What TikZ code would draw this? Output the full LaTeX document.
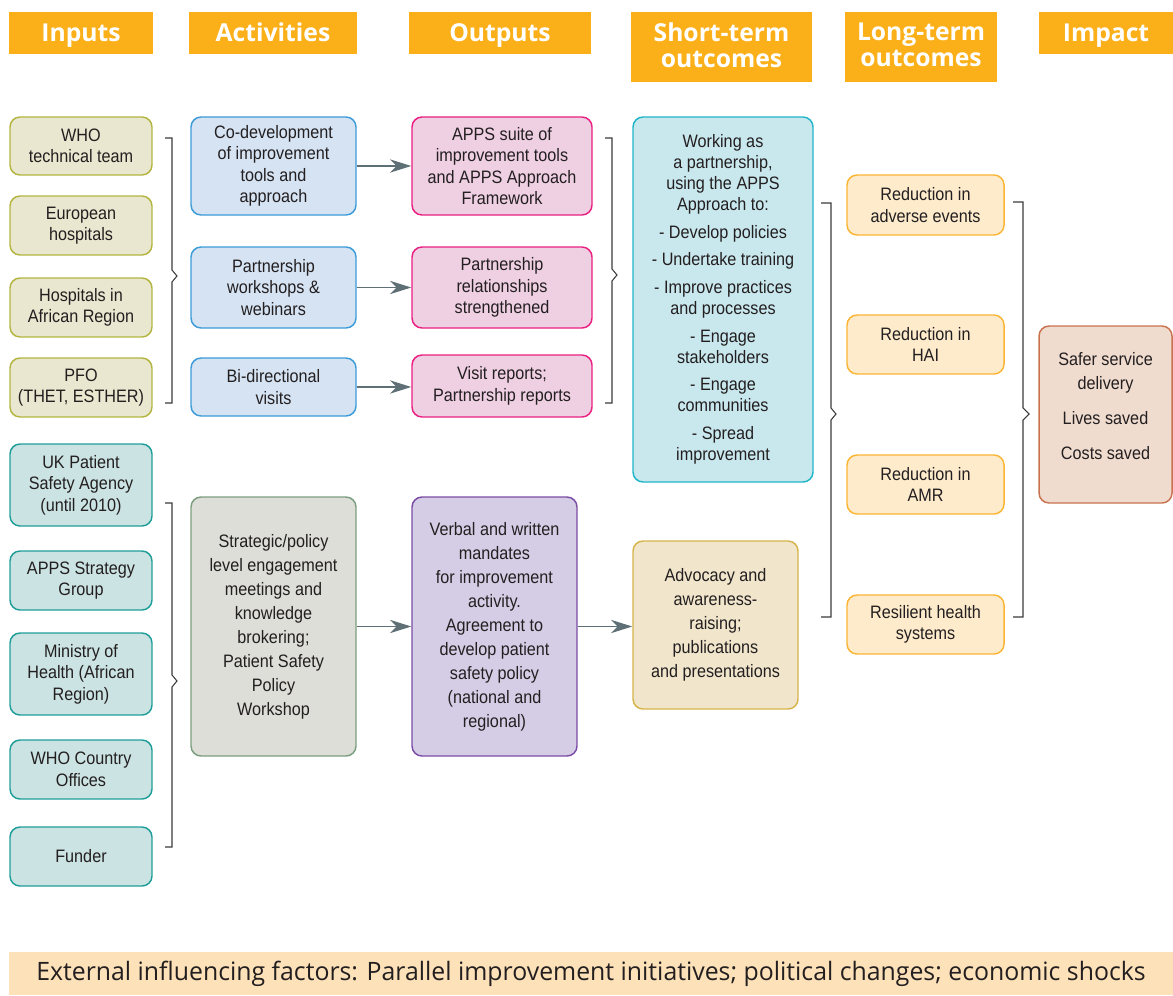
\documentclass[tikz,border=0pt]{standalone}
\usepackage{fontspec}
\setmainfont{Liberation Sans}[FakeStretch=0.9]
\newfontfamily\headfont{Open Sans}
\newfontfamily\barfont{Open Sans}[FakeStretch=0.98]
\usetikzlibrary{arrows.meta}
\definecolor{hdor}{HTML}{FBB01A}
\definecolor{barF}{HTML}{FDE1B8}
\definecolor{txt}{HTML}{231F20}
\definecolor{olvF}{HTML}{E9E7CF}
\definecolor{olvD}{HTML}{B3B540}
\definecolor{tlF}{HTML}{CBE3E2}
\definecolor{tlD}{HTML}{1F9E99}
\definecolor{bluF}{HTML}{D5E3F3}
\definecolor{bluD}{HTML}{3C9BD8}
\definecolor{gryF}{HTML}{DCDED7}
\definecolor{gryD}{HTML}{7C9E80}
\definecolor{pnkF}{HTML}{EFD0E3}
\definecolor{pnkD}{HTML}{EA1F82}
\definecolor{purF}{HTML}{D5CDE5}
\definecolor{purD}{HTML}{7B4DA6}
\definecolor{cyF}{HTML}{C9E8EE}
\definecolor{cyD}{HTML}{21B5C9}
\definecolor{advF}{HTML}{F1E6CC}
\definecolor{advD}{HTML}{D6B44C}
\definecolor{ltF}{HTML}{FDEBCC}
\definecolor{ltD}{HTML}{FBB535}
\definecolor{imF}{HTML}{F0DCCF}
\definecolor{imD}{HTML}{C9724F}
\definecolor{arrc}{HTML}{5E6F76}
\definecolor{brkc}{HTML}{3A3A3A}
\tikzset{
  bx/.style={draw, line width=1.1pt, rounded corners=7.5pt, inner sep=0pt, align=center,
    text=txt, font=\fontsize{13.5}{16.1}\selectfont},
  bxl/.style={bx, font=\fontsize{13.5}{18}\selectfont},
  hd/.style={fill=hdor, inner sep=0pt, align=center, text=white,
    font=\headfont\bfseries\fontsize{18.5}{19.5}\selectfont},
  hdone/.style={hd, text height=13.2pt, text depth=0pt},
  olv/.style={bx, fill=olvF, draw=olvD},
  tl/.style={bx, fill=tlF, draw=tlD},
  blu/.style={bx, fill=bluF, draw=bluD},
  gry/.style={bxl, fill=gryF, draw=gryD},
  pnk/.style={bx, fill=pnkF, draw=pnkD},
  pur/.style={bxl, fill=purF, draw=purD},
  cy/.style={bx, fill=cyF, draw=cyD, font=\fontsize{13.5}{15.75}\selectfont},
  adv/.style={bxl, fill=advF, draw=advD},
  lt/.style={bx, fill=ltF, draw=ltD},
  im/.style={bxl, fill=imF, draw=imD},
  barst/.style={fill=barF, inner sep=0pt, text=txt, font=\barfont\fontsize{19}{21}\selectfont},
  arr/.style={draw=arrc, line width=1.1pt, -{Stealth[length=16pt,width=10pt,inset=5pt]}},
  brk/.style={draw=brkc, line width=0.8pt}
}
\newcommand\mybox[7]{%
  \pgfmathsetmacro\bxcx{(#3+#5)/2}%
  \pgfmathsetmacro\bxcy{(#4+#6)/2}%
  \pgfmathsetmacro\bxw{(#5-#3)*0.75}%
  \pgfmathsetmacro\bxh{(#6-#4)*0.75}%
  \node[#1, minimum width=\bxw pt, minimum height=\bxh pt, anchor=center] (#2) at (\bxcx,\bxcy) {#7};}
\begin{document}
\begin{tikzpicture}[x=0.75pt,y=-0.75pt]
\useasboundingbox (0,0) rectangle (1173,995);
% headers
\mybox{hdone}{h1}{9}{12}{153}{54}{Inputs}
\mybox{hdone}{h2}{189}{12}{357}{54}{Activities}
\mybox{hdone}{h3}{409}{12}{591}{54}{Outputs}
\mybox{hd}{h4}{631}{12}{812}{82}{Short-term\\outcomes\\[-16pt]\mbox{}}
\mybox{hd}{h5}{845}{12}{997}{82}{Long-term\\outcomes\\[-16pt]\mbox{}}
\mybox{hdone}{h6}{1039}{12}{1173}{54}{Impact}
% inputs
\mybox{olv}{in1}{10}{117}{152}{175}{WHO\\technical team}
\mybox{olv}{in2}{10}{196}{152}{255}{European\\hospitals}
\mybox{olv}{in3}{10}{278}{152}{337}{Hospitals in\\African Region}
\mybox{olv}{in4}{10}{358}{152}{417}{PFO\\(THET, ESTHER)}
\mybox{tl}{in5}{10}{444}{152}{526}{UK Patient\\Safety Agency\\(until 2010)}
\mybox{tl}{in6}{10}{551}{152}{610}{APPS Strategy\\Group}
\mybox{tl}{in7}{10}{633}{152}{715}{Ministry of\\Health (African\\Region)}
\mybox{tl}{in8}{10}{740}{152}{799}{WHO Country\\Offices}
\mybox{tl}{in9}{10}{827}{152}{886}{Funder}
% activities
\mybox{blu}{ac1}{191}{117}{356}{215}{Co-development\\of improvement\\tools and\\approach}
\mybox{blu}{ac2}{191}{247}{356}{328}{Partnership\\workshops \&\\webinars}
\mybox{blu}{ac3}{191}{358}{356}{416}{Bi-directional\\visits}
\mybox{gry}{ac4}{191}{497}{356}{756}{Strategic/policy\\level engagement\\meetings and\\knowledge\\brokering;\\Patient Safety\\Policy\\Workshop}
% outputs
\mybox{pnk}{ou1}{412}{117}{592}{215}{APPS suite of\\improvement tools\\and APPS Approach\\Framework}
\mybox{pnk}{ou2}{412}{247}{592}{328}{Partnership\\relationships\\strengthened}
\mybox{pnk}{ou3}{412}{355}{592}{417}{Visit reports;\\Partnership reports}
\mybox{pur}{ou4}{412}{497}{577}{756}{Verbal and written\\mandates\\for improvement\\activity.\\Agreement to\\develop patient\\safety policy\\(national and\\regional)}
% short-term
\mybox{cy}{st1}{633}{117}{813}{482}{Working as\\a partnership,\\using the APPS\\Approach to:\\[5pt]- Develop policies\\[5pt]- Undertake training\\[5pt]- Improve practices\\and processes\\[5pt]- Engage\\stakeholders\\[5pt]- Engage\\communities\\[5pt]- Spread\\improvement}
\mybox{adv}{st2}{633}{541}{798}{709}{Advocacy and\\awareness-\\raising;\\publications\\and presentations}
% long-term
\mybox{lt}{lt1}{847}{175}{1004}{235}{Reduction in\\adverse events}
\mybox{lt}{lt2}{847}{315}{1004}{374}{Reduction in\\HAI}
\mybox{lt}{lt3}{847}{455}{1004}{514}{Reduction in\\AMR}
\mybox{lt}{lt4}{847}{595}{1004}{654}{Resilient health\\systems}
% impact
\mybox{im}{imp}{1039}{326}{1172}{503}{Safer service\\delivery\\[8pt]Lives saved\\[8pt]Costs saved\\[-5pt]\phantom{x}}
% bottom bar
\mybox{barst}{bar}{9}{952}{1173}{995}{External influencing factors: Parallel improvement initiatives; political changes; economic shocks}
% arrows
\draw[arr] (ac1.east) -- (ou1.west);
\draw[arr] (ac2.east) -- (ou2.west);
\draw[arr] (ac3.east) -- (ac3.east -| ou3.west);
\draw[arr] (ac4.east) -- (ou4.west);
\draw[arr] (ou4.east) -- (ou4.east -| st2.west);
% brackets
\draw[brk] (165,138) -- (172,138) -- (172,270) -- (177,276) -- (172,282) -- (172,403) -- (165,403);
\draw[brk] (605,138) -- (612,138) -- (612,269) -- (617,275) -- (612,281) -- (612,403) -- (605,403);
\draw[brk] (821,203) -- (831,203) -- (831,408) -- (836,414) -- (831,420) -- (831,617) -- (821,617);
\draw[brk] (1013,202) -- (1023,202) -- (1023,408) -- (1029,414) -- (1023,420) -- (1023,617) -- (1013,617);
\draw[brk] (165,503) -- (172,503) -- (172,675) -- (177,681) -- (172,687) -- (172,847) -- (165,847);
\end{tikzpicture}
\end{document}
